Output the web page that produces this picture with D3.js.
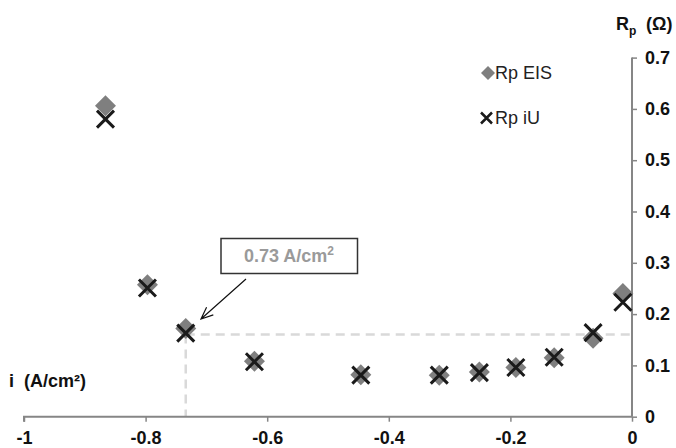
<!DOCTYPE html>
<html><head><meta charset="utf-8">
<script src="https://cdn.jsdelivr.net/npm/d3@7"></script>
<style>body{margin:0;background:#fff}svg{display:block;font-family:"Liberation Sans",Arial,sans-serif}</style>
</head><body><svg id="c" width="676" height="448"></svg>
<script>
const currentDensity = [-0.866, -0.797, -0.734, -0.621, -0.446, -0.317, -0.251, -0.191, -0.128, -0.064, -0.015];
const rpEIS = [0.606, 0.257, 0.172, 0.108, 0.082, 0.081, 0.087, 0.096, 0.115, 0.153, 0.240];
const rpIU  = [0.580, 0.251, 0.163, 0.107, 0.081, 0.081, 0.086, 0.096, 0.116, 0.164, 0.223];
const xTicks = [-1, -0.8, -0.6, -0.4, -0.2, 0];
const yTicks = [0, 0.1, 0.2, 0.3, 0.4, 0.5, 0.6, 0.7];
const limitI = -0.734, limitRp = 0.16;
const seriesNames = ["Rp EIS", "Rp iU"];
const annotationText = "0.73 A/cm";

const svg = d3.select("#c");
const x = d3.scaleLinear().domain([-1, 0]).range([24, 632]);
const y = d3.scaleLinear().domain([0, 0.7]).range([416.7, 57.6]);
const fmt = d => d === 0 ? "0" : String(+d.toFixed(1));

// dashed guide lines
const guide = svg.append("g").attr("stroke", "#d9d9d9").attr("stroke-width", 2.5).attr("stroke-dasharray", "9,6").attr("fill", "none");
guide.append("line").attr("x1", x(limitI)).attr("x2", x(0)).attr("y1", y(limitRp)).attr("y2", y(limitRp));
guide.append("line").attr("x1", x(limitI)).attr("x2", x(limitI)).attr("y1", y(limitRp)).attr("y2", y(0));

// axes
const xa = svg.append("g").attr("transform", `translate(0,${y(0)})`)
  .call(d3.axisBottom(x).tickValues(xTicks).tickSize(5).tickPadding(10).tickFormat(fmt));
const ya = svg.append("g").attr("transform", `translate(${x(0)},0)`)
  .call(d3.axisRight(y).tickValues(yTicks).tickSize(5).tickPadding(8).tickFormat(fmt));
[xa, ya].forEach(a => {
  a.select(".domain").attr("stroke", "#868686").attr("stroke-width", 2);
  a.selectAll(".tick line").attr("stroke", "#868686").attr("stroke-width", 1.5);
  a.selectAll(".tick text").attr("fill", "#111").attr("font-size", 18).attr("font-weight", "bold").attr("font-family", "Liberation Sans, Arial, sans-serif");
});
xa.select(".domain").attr("d", `M${x(-1)},5V0H${x(0)}`);
ya.select(".domain").attr("d", `M0,${y(0.7)}V${y(0)}`);

// markers
const diamond = (s) => `M0,${-s}L${s},0L0,${s}L${-s},0Z`;
const cross = (s) => `M${-s},${-s}L${s},${s}M${-s},${s}L${s},${-s}`;
svg.append("g").selectAll("path").data(currentDensity).join("path")
  .attr("transform", (d, i) => `translate(${x(d)},${y(rpEIS[i])})`)
  .attr("d", diamond(10.5)).attr("fill", "#7f7f7f");
svg.append("g").selectAll("path").data(currentDensity).join("path")
  .attr("transform", (d, i) => `translate(${x(d)},${y(rpIU[i])})`)
  .attr("d", cross(8.5)).attr("stroke", "#1a1a1a").attr("stroke-width", 3).attr("fill", "none");

// legend
const lg = svg.append("g");
lg.append("path").attr("transform", "translate(488,73)").attr("d", diamond(7)).attr("fill", "#7f7f7f");
lg.append("path").attr("transform", "translate(486.5,118)").attr("d", cross(5.5)).attr("stroke", "#1a1a1a").attr("stroke-width", 2.5).attr("fill", "none");
lg.selectAll("text").data(seriesNames).join("text")
  .attr("x", 495).attr("y", (d, i) => 79 + i * 45).attr("font-size", 18).attr("fill", "#222").text(d => d);

// axis titles
const yt = svg.append("text").attr("x", 616).attr("y", 30).attr("font-size", 18).attr("font-weight", "bold").attr("fill", "#111");
yt.append("tspan").text("R");
yt.append("tspan").attr("font-size", 12).attr("dy", 5).text("p");
yt.append("tspan").attr("x", 646).attr("dy", -5).text("(Ω)");
svg.append("text").attr("x", 9).attr("y", 387).attr("font-size", 18).attr("font-weight", "bold").attr("fill", "#111")
  .attr("xml:space", "preserve").style("white-space", "pre").text("i  (A/cm²)");

// annotation
svg.append("rect").attr("x", 221).attr("y", 238.5).attr("width", 136.5).attr("height", 35)
  .attr("fill", "#fff").attr("stroke", "#333").attr("stroke-width", 1.5);
const at = svg.append("text").attr("x", 289).attr("y", 262).attr("text-anchor", "middle")
  .attr("font-size", 18).attr("font-weight", "bold").attr("fill", "#9a9a9a");
at.append("tspan").text(annotationText);
at.append("tspan").attr("font-size", 12).attr("dy", -7).text("2");
// arrow
const ax1 = 246, ay1 = 279, ax2 = 201, ay2 = 319;
const ang = Math.atan2(ay2 - ay1, ax2 - ax1), L = 13, sp = 0.4;
svg.append("path").attr("fill", "none").attr("stroke", "#111").attr("stroke-width", 1.2)
  .attr("d", `M${ax1},${ay1}L${ax2},${ay2}M${ax2 - L * Math.cos(ang - sp)},${ay2 - L * Math.sin(ang - sp)}L${ax2},${ay2}L${ax2 - L * Math.cos(ang + sp)},${ay2 - L * Math.sin(ang + sp)}`);
</script></body></html>
